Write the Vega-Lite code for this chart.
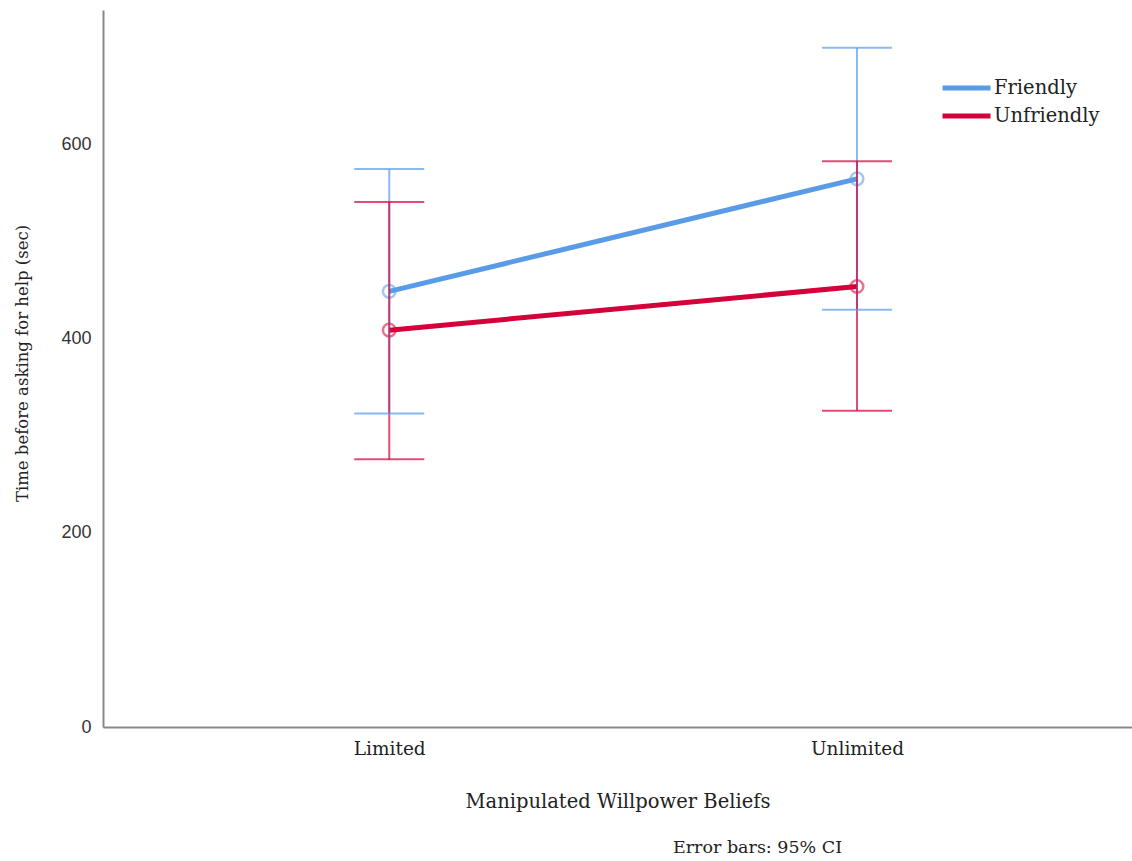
{
  "$schema": "https://vega.github.io/schema/vega-lite/v6.json",
  "width": 1029,
  "height": 717,
  "autosize": {"type": "none"},
  "padding": {"left": 103, "top": 10, "right": 0, "bottom": 134},
  "background": "white",
  "config": {"view": {"stroke": null}},
  "title": {
    "text": "Error bars: 95% CI",
    "orient": "bottom",
    "anchor": "middle",
    "dx": 140,
    "offset": 28,
    "font": "DejaVu Serif",
    "fontSize": 17.5,
    "fontWeight": "normal",
    "color": "#222222"
  },
  "data": {
    "values": [
      {"group": "Friendly", "belief": "Limited", "mean": 449, "lo": 323, "hi": 575},
      {"group": "Friendly", "belief": "Unlimited", "mean": 565, "lo": 430, "hi": 700},
      {"group": "Unfriendly", "belief": "Limited", "mean": 409, "lo": 276, "hi": 541},
      {"group": "Unfriendly", "belief": "Unlimited", "mean": 454, "lo": 326, "hi": 583}
    ]
  },
  "encoding": {
    "x": {
      "field": "belief",
      "type": "nominal",
      "sort": ["Limited", "Unlimited"],
      "scale": {"type": "point", "padding": 0.6, "align": 0.51},
      "axis": {
        "title": "Manipulated Willpower Beliefs",
        "titleFont": "DejaVu Serif",
        "titleFontSize": 19.5,
        "titleFontWeight": "normal",
        "titleColor": "#222222",
        "titlePadding": 35,
        "labelFont": "DejaVu Serif",
        "labelFontSize": 18.5,
        "labelColor": "#222222",
        "labelAngle": 0,
        "labelPadding": 12,
        "ticks": false,
        "grid": false,
        "domainColor": "#888888",
        "domainWidth": 2
      }
    },
    "color": {
      "field": "group",
      "type": "nominal",
      "scale": {"domain": ["Friendly", "Unfriendly"], "range": ["#5a9be8", "#d4023a"]},
      "legend": {
        "orient": "none",
        "legendX": 837,
        "legendY": 64,
        "title": null,
        "symbolType": "stroke",
        "symbolSize": 2304,
        "symbolStrokeWidth": 5,
        "symbolOpacity": 1,
        "clipHeight": 28,
        "rowPadding": 0,
        "labelFont": "DejaVu Serif",
        "labelFontSize": 19.5,
        "labelColor": "#222222",
        "labelOffset": 1,
        "encode": {
          "symbols": {"update": {"opacity": {"value": 1}, "strokeWidth": {"value": 5}}}
        }
      }
    }
  },
  "layer": [
    {
      "mark": {"type": "line", "strokeWidth": 5},
      "encoding": {
        "y": {
          "field": "mean",
          "type": "quantitative",
          "scale": {"domain": [0, 739], "nice": false, "zero": true},
          "axis": {
            "title": "Time before asking for help (sec)",
            "titleFont": "DejaVu Serif",
            "titleFontSize": 16.5,
            "titleFontWeight": "normal",
            "titleColor": "#222222",
            "titleX": -81,
            "titleY": 353,
            "titleBaseline": "middle",
            "titleAngle": -90,
            "values": [0, 200, 400, 600],
            "labelFont": "Liberation Sans",
            "labelFontSize": 18,
            "labelColor": "#333333",
            "labelPadding": 12,
            "ticks": false,
            "grid": false,
            "domainColor": "#888888",
            "domainWidth": 2
          }
        }
      }
    },
    {
      "mark": {"type": "point", "filled": false, "size": 160, "strokeWidth": 2.5, "opacity": 0.55},
      "encoding": {"y": {"field": "mean", "type": "quantitative"}}
    },
    {
      "mark": {"type": "rule", "strokeWidth": 2, "opacity": 0.7},
      "encoding": {
        "y": {"field": "lo", "type": "quantitative"},
        "y2": {"field": "hi"}
      }
    },
    {
      "mark": {"type": "tick", "thickness": 2, "size": 70, "opacity": 0.7},
      "encoding": {"y": {"field": "lo", "type": "quantitative"}}
    },
    {
      "mark": {"type": "tick", "thickness": 2, "size": 70, "opacity": 0.7},
      "encoding": {"y": {"field": "hi", "type": "quantitative"}}
    }
  ]
}
